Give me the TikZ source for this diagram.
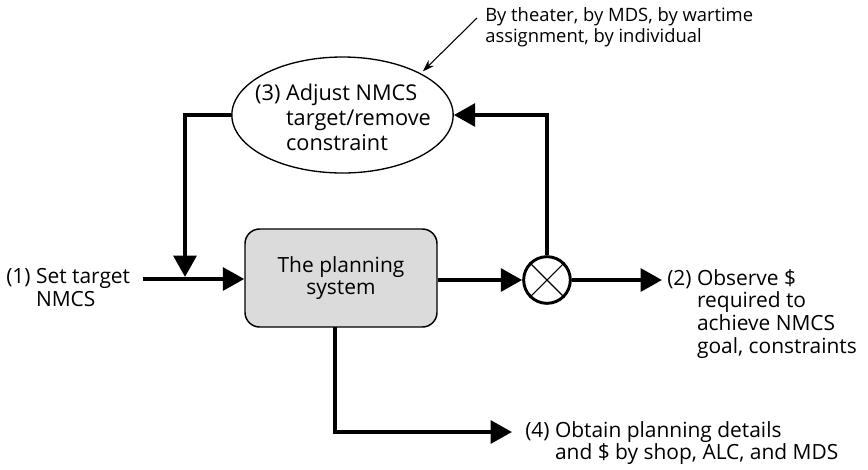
\documentclass[tikz,border=0pt]{standalone}
\usepackage{fontspec}
\setmainfont{Open Sans}
\usetikzlibrary{arrows.meta,shapes.geometric,calc}
\begin{document}
\begin{tikzpicture}[x=0.75pt,y=-0.75pt,
  font=\fontsize{15.7}{17}\selectfont,
  flow/.style={line width=3pt,-{Triangle[length=16pt,width=17pt]}},
  label/.style={align=left,inner sep=0pt,anchor=north west}]
\useasboundingbox (0,0) rectangle (868,469);

% adjustment ellipse and its text
\node[ellipse,draw,line width=1pt,minimum width=166pt,minimum height=87pt,
      inner sep=0pt] (ell) at (342.5,115) {};
\node[align=left,inner sep=0pt,font=\fontsize{16.3}{18.8}\selectfont] (ellT) at (343,119)
  {(3) Adjust NMCS\\\phantom{(3) }target/remove\\\phantom{(3) }constraint};

% planning system box
\node[draw,line width=1.1pt,rounded corners=11pt,fill=black!14,
      minimum width=144pt,minimum height=73.5pt,align=center] (sys) at (341,278)
  {The planning\\system};

% comparator
\node[circle,draw,line width=2.2pt,minimum size=35pt,inner sep=0pt] (mult) at (547,280) {};
\draw[line width=0.8pt] (mult.north west) -- (mult.south east)
                        (mult.north east) -- (mult.south west);

% texts
\node[label] (in) at (6,268)
  {(1) Set target\\\phantom{(1) }NMCS};
\node[label] (obs) at (667,269)
  {(2) Observe \$\\\phantom{(2) }required to\\\phantom{(2) }achieve NMCS\\\phantom{(2) }goal, constraints};
\node[label] (det) at (525,421)
  {(4) Obtain planning details\\\phantom{(4) }and \$ by shop, ALC, and MDS};
\node[label,font=\fontsize{13.8}{15.8}\selectfont] (note) at (485,7)
  {By theater, by MDS, by wartime\\assignment, by individual};

% connector points
\coordinate (inP) at (143,279);
\coordinate (fbJ) at (185,279);
\coordinate (obsP) at (662,280);
\coordinate (sysB) at (335,327);
\coordinate (detC) at (335,432);
\coordinate (detP) at (512,432);
\coordinate (noteP) at (477,18);

% connectors
\draw[flow] (inP) -- (inP -| sys.west);
\draw[flow,shorten >=1.5pt] (ell.west) -| (fbJ);
\draw[flow] (sys.east |- mult.west) -- (mult.west);
\draw[flow] (mult.north) |- (ell.east);
\draw[flow] (mult.east) -- (obsP);
\draw[flow] (sysB) -- (detC) -- (detP);
\draw[line width=0.8pt,-{Stealth[length=9pt,width=6pt]},shorten >=2pt] (noteP) -- (ell.28);
\end{tikzpicture}
\end{document}
